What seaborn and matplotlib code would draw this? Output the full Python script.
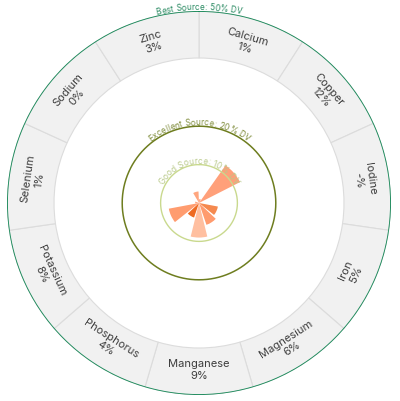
import numpy as np
import pandas as pd
import matplotlib
matplotlib.use("Agg")
import matplotlib.pyplot as plt
import seaborn as sns
from matplotlib.textpath import TextToPath
from matplotlib.font_manager import FontProperties

# ---- data ----
nutrients = ["Calcium", "Copper", "Iodine", "Iron", "Magnesium", "Manganese",
             "Phosphorus", "Potassium", "Selenium", "Sodium", "Zinc"]
dv_percent = [1, 12, np.nan, 5, 6, 9, 4, 8, 1, 0, 3]
pct_labels = ["1%", "12%", "-%", "5%", "6%", "9%", "4%", "8%", "1%", "0%", "3%"]
wedge_colors = ["#ffa07a", "#ffa07a", "#ffa07a", "#f5894f", "#ff9b6e", "#ffbfa0",
                "#ee6a22", "#ff9c6f", "#ffa07a", "#ffa07a", "#ffa67f"]
thresholds = [10, 20, 50]
threshold_names = ["Good Source: 10% DV", "Excellent Source: 20% DV", "Best Source: 50% DV"]
threshold_line_colors = ["#c9d98e", "#6e7d1f", "#1c8a5b"]
threshold_text_colors = ["#b9c98a", "#7f8c3a", "#2a8a62"]

sns.set_style("white")
plt.rcParams["font.family"] = ["Inter", "DejaVu Sans"]

DPI = 100
fig = plt.figure(figsize=(4.0, 4.01), dpi=DPI)
cx, cy, R = 199.0, 203.0, 192.0
W, H = 400.0, 401.0
ax = fig.add_axes([(cx - R) / W, (H - cy - R) / H, 2 * R / W, 2 * R / H], projection="polar")
ax.set_theta_zero_location("N")
ax.set_theta_direction(-1)
RMAX = 50.0
px_per_unit = R / RMAX

n = len(nutrients)
step = 2 * np.pi / n
theta = np.arange(n) * step + step / 2

df = pd.DataFrame({"nutrient": nutrients, "theta": theta, "dv": dv_percent})

# label band
band_in = 145.0 / px_per_unit
ax.bar(theta, RMAX - band_in, width=step, bottom=band_in, color="#f1f1f1",
       edgecolor="#dcdcdc", linewidth=0.8, zorder=1)

# wedges via seaborn
sns.barplot(data=df.dropna(), x="theta", y="dv", hue="nutrient",
            palette=dict(zip(nutrients, wedge_colors)), native_scale=True,
            width=0.85, legend=False, ax=ax, errorbar=None, zorder=3,
            linewidth=0, saturation=1)

ax.set_ylim(0, RMAX)
ax.set_xlim(0, 2 * np.pi)
ax.set_axis_off()

# threshold circles
tt = np.linspace(0, 2 * np.pi, 721)
lws = [1.0, 1.1, 1.3]
for r, c, lw in zip(thresholds, threshold_line_colors, lws):
    ax.plot(tt, np.full_like(tt, r), color=c, lw=lw, zorder=4)

# curved threshold labels
ttp = TextToPath()

def glyph_x(s, prop):
    """x positions (px) of each glyph origin, plus end advance."""
    font = ttp._get_font(prop)
    font.set_size(ttp.FONT_SCALE, ttp.DPI)
    info, _, _ = ttp.get_glyphs_with_font(font, s + "I")
    xs = [g[1] for g in info]
    scale = prop.get_size_in_points() / ttp.FONT_SCALE * DPI / 72.0
    return [x * scale for x in xs]

def arc_text(s, r_data, color, size):
    prop = FontProperties(family=["Inter", "DejaVu Sans"], size=size)
    r_px = r_data * px_per_unit + 1.0
    xs = glyph_x(s, prop)
    total = xs[len(s)]
    for i, ch in enumerate(s):
        if ch == " ":
            continue
        mid = (xs[i] + xs[i + 1]) / 2 - total / 2
        ang = mid / r_px
        ax.text(ang, r_data + 1.0 / px_per_unit, ch, fontproperties=prop, color=color,
                rotation=-np.degrees(ang), rotation_mode="anchor",
                ha="center", va="baseline", zorder=6)

for r, name, c in zip(thresholds, threshold_names, threshold_text_colors):
    arc_text(name, r, c, 6.0)

# category labels
lab_r = 167.0 / px_per_unit
for th, name, pl in zip(theta, nutrients, pct_labels):
    deg = np.degrees(th)
    rot = -deg if (deg < 90 or deg > 270) else 180 - deg
    ax.text(th, lab_r, f"{name}\n{pl}", ha="center", va="center",
            multialignment="center", rotation=rot, rotation_mode="anchor",
            fontsize=8, color="#3d3d3d", linespacing=1.15, zorder=6)

fig.savefig("out.png", dpi=DPI, facecolor="white")
